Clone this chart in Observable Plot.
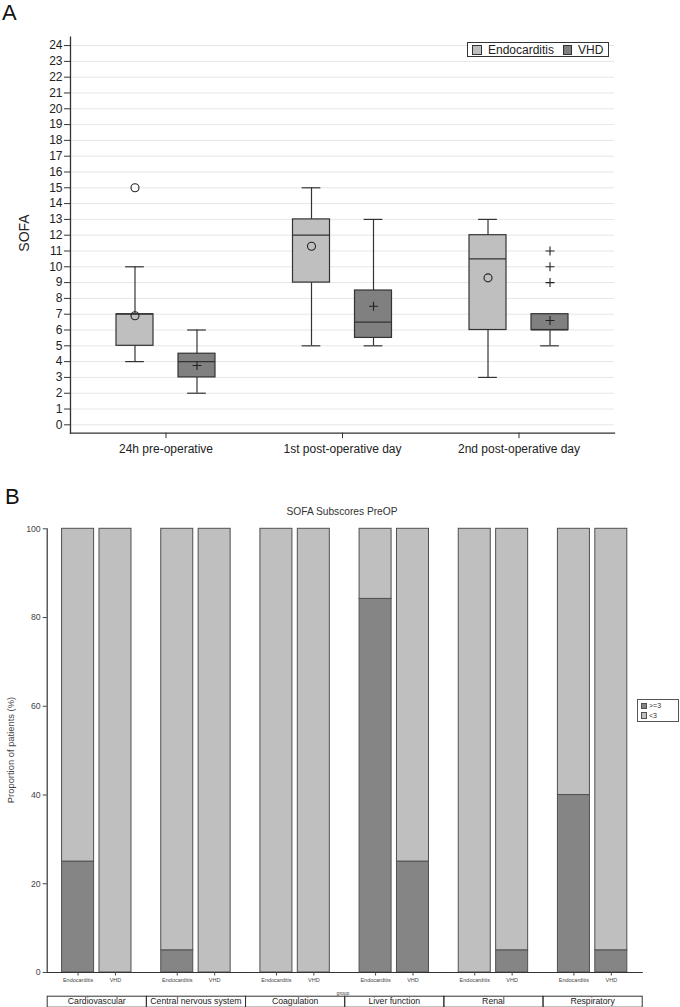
<!DOCTYPE html>
<html>
<head>
<meta charset="utf-8">
<script src="https://cdn.jsdelivr.net/npm/d3@7"></script>
<script src="https://cdn.jsdelivr.net/npm/@observablehq/plot@0.6"></script>
<style>
  html, body { margin: 0; padding: 0; background: #fff; }
  #wrap { position: relative; width: 680px; height: 1007px; overflow: hidden;
          font-family: "Liberation Sans", Arial, Helvetica, sans-serif; color: #222; }
  #wrap svg { position: absolute; left: 0; }
  .abs { position: absolute; white-space: nowrap; line-height: 1; }
  .rot { transform: translate(-50%, -50%) rotate(-90deg); }
  .sq { position: absolute; box-sizing: border-box; border: 1px solid #333; }
</style>
</head>
<body>
<div id="wrap"></div>
<script>
// ---------------- Panel A data (SOFA box plots) ----------------
const periods = ["24h pre-operative", "1st post-operative day", "2nd post-operative day"];
const groups = ["Endocarditis", "VHD"];
const boxPeriod = ["24h pre-operative", "24h pre-operative", "1st post-operative day", "1st post-operative day", "2nd post-operative day", "2nd post-operative day"];
const boxGroup = ["Endocarditis", "VHD", "Endocarditis", "VHD", "Endocarditis", "VHD"];
const whiskerLow = [4, 2, 5, 5, 3, 5];
const quartile1 = [5, 3, 9, 5.5, 6, 6];
const medians = [7, 4, 12, 6.5, 10.5, 6];
const quartile3 = [7, 4.5, 13, 8.5, 12, 7];
const whiskerHigh = [10, 6, 15, 13, 13, 7];
const means = [6.9, 3.75, 11.3, 7.5, 9.3, 6.6];
const outlierPeriod = ["24h pre-operative", "2nd post-operative day", "2nd post-operative day", "2nd post-operative day"];
const outlierGroup = ["Endocarditis", "VHD", "VHD", "VHD"];
const outlierValue = [15, 9, 10, 11];
const sofaTicks = d3.range(0, 25);

// ---------------- Panel B data (SOFA subscores PreOP) ----------------
const subscores = ["Cardiovascular", "Central nervous system", "Coagulation", "Liver function", "Renal", "Respiratory"];
const levels = [">=3", "<3"];
const endoHigh = [25, 5, 0, 84.2, 0, 40];   // % of Endocarditis patients with subscore >=3
const vhdHigh = [0, 0, 0, 25, 5, 5];        // % of VHD patients with subscore >=3
const pctTicks = [0, 20, 40, 60, 80, 100];

const FONT = '"Liberation Sans", Arial, Helvetica, sans-serif';
const wrap = document.getElementById("wrap");

// ================= Panel A =================
const WA = 680, HA = 480, mlA = 70, mrA = 66, mtA = 36.7, mbA = 47.3;
const poA = 0.041;
const stepA = (WA - mlA - mrA) / (periods.length + 2 * poA);
const boxW = 37, capW = 18.7, gOff = 31;
const boxInset = (stepA - boxW) / 2, capInset = (stepA - capW) / 2;

const rowsA = boxGroup.map((g, i) => ({
  period: boxPeriod[i], group: g, lo: whiskerLow[i], q1: quartile1[i],
  med: medians[i], q3: quartile3[i], hi: whiskerHigh[i], mean: means[i]
}));
const outA = outlierValue.map((v, i) => ({period: outlierPeriod[i], group: outlierGroup[i], value: v}));
const groupStyle = {
  Endocarditis: {fill: "#bfbfbf", dx: -gOff, symbol: "circle", r: 4},
  VHD: {fill: "#808080", dx: gOff, symbol: "plus", r: 3}
};
const LC = "#333", LW = 1.2;

const marksA = [Plot.gridY(sofaTicks, {stroke: "#e6e6e6", strokeOpacity: 1})];
for (const g of groups) {
  const s = groupStyle[g];
  const d = rowsA.filter(r => r.group === g);
  const o = outA.filter(r => r.group === g);
  marksA.push(
    Plot.ruleX(d, {x: "period", y1: "lo", y2: "q1", dx: s.dx, stroke: LC, strokeWidth: LW}),
    Plot.ruleX(d, {x: "period", y1: "q3", y2: "hi", dx: s.dx, stroke: LC, strokeWidth: LW}),
    Plot.tickY(d, {x: "period", y: "lo", dx: s.dx, insetLeft: capInset, insetRight: capInset, stroke: LC, strokeWidth: LW}),
    Plot.tickY(d, {x: "period", y: "hi", dx: s.dx, insetLeft: capInset, insetRight: capInset, stroke: LC, strokeWidth: LW}),
    Plot.barY(d, {x: "period", y1: "q1", y2: "q3", dx: s.dx, insetLeft: boxInset, insetRight: boxInset, fill: s.fill, stroke: LC, strokeWidth: LW}),
    Plot.tickY(d, {x: "period", y: "med", dx: s.dx, insetLeft: boxInset, insetRight: boxInset, stroke: LC, strokeWidth: LW}),
    Plot.dot(d, {x: "period", y: "mean", dx: s.dx, symbol: s.symbol, r: s.r, stroke: "#222", strokeWidth: 1.1, fill: "none"}),
    Plot.dot(o, {x: "period", y: "value", dx: s.dx, symbol: s.symbol, r: s.r, stroke: "#222", strokeWidth: 1.1, fill: "none"})
  );
}

const plotA = Plot.plot({
  width: WA, height: HA,
  marginLeft: mlA, marginRight: mrA, marginTop: mtA, marginBottom: mbA,
  style: {fontFamily: FONT, background: "transparent", color: "#222"},
  x: {domain: periods, paddingInner: 0, paddingOuter: poA, round: false},
  y: {domain: [-0.53, 24.53]},
  marks: [
    ...marksA,
    Plot.frame({anchor: "left", stroke: LC, strokeWidth: 1.3}),
    Plot.frame({anchor: "bottom", stroke: LC, strokeWidth: 1.3}),
    Plot.axisY(sofaTicks, {tickSize: 6, tickPadding: 2, fontSize: 12, label: null, stroke: LC}),
    Plot.axisX({tickSize: 5.5, tickPadding: 6, fontSize: 12, label: null, stroke: LC})
  ]
});
plotA.style.top = "0px";
wrap.appendChild(plotA);

// ================= Panel B =================
const WB = 680, HB = 527, mlB = 46.7, mrB = 38.3, mtB = 48.3, mbB = 35;
const innerHB = HB - mtB - mbB;
const rowsB = [];
for (const lv of levels) {
  subscores.forEach((s, i) => {
    rowsB.push({sub: s, group: "Endocarditis", level: lv, value: lv === ">=3" ? endoHigh[i] : 100 - endoHigh[i]});
    rowsB.push({sub: s, group: "VHD", level: lv, value: lv === ">=3" ? vhdHigh[i] : 100 - vhdHigh[i]});
  });
}

const plotB = Plot.plot({
  width: WB, height: HB,
  marginLeft: mlB, marginRight: mrB, marginTop: mtB, marginBottom: mbB,
  style: {fontFamily: FONT, background: "transparent", color: "#333"},
  facet: {data: rowsB, x: "sub"},
  fx: {domain: subscores, padding: 0, round: false},
  x: {domain: groups, paddingInner: 0.144, paddingOuter: 0.398, round: false},
  y: {domain: [0, 100]},
  color: {domain: levels, range: ["#858585", "#bfbfbf"]},
  marks: [
    Plot.barY(rowsB, {x: "group", y: "value", fill: "level", stroke: "#505050", strokeWidth: 1}),
    Plot.frame({anchor: "bottom", stroke: "#333", strokeWidth: 1.2}),
    Plot.frame({anchor: "left", facetAnchor: "left", stroke: "#333", strokeWidth: 1.2}),
    Plot.frame({insetTop: innerHB + 23.7, insetBottom: -34.7, stroke: "#333", strokeWidth: 1}),
    Plot.axisY(pctTicks, {tickSize: 4, tickPadding: 2.5, fontSize: 8.7, label: null, color: "#444"}),
    Plot.axisX({tickSize: 3.5, tickPadding: 2, fontSize: 5.5, label: null, color: "#444"}),
    Plot.axisFx({anchor: "bottom", tickSize: 0, tickPadding: 25.5, fontSize: 8.7, label: null, color: "#222"})
  ]
});
plotB.style.top = "480px";
wrap.appendChild(plotB);

// ================= Text overlays =================
function addText(txt, css, cls = "abs") {
  const el = document.createElement("div");
  el.className = cls;
  el.textContent = txt;
  Object.assign(el.style, css);
  wrap.appendChild(el);
  return el;
}
function addBox(css) {
  const el = document.createElement("div");
  el.className = "sq";
  Object.assign(el.style, css);
  wrap.appendChild(el);
  return el;
}

// Panel letters
addText("A", {left: "2px", top: "2px", fontSize: "22px", color: "#111"});
addText("B", {left: "5px", top: "486px", fontSize: "22px", color: "#111"});

// Panel A y label
addText("SOFA", {left: "24px", top: "233px", fontSize: "14px", color: "#222"}, "abs rot");

// Panel A legend
addBox({left: "466.7px", top: "41.7px", width: "142.6px", height: "15.5px", border: "1px solid #333", background: "#fff"});
addBox({left: "472px", top: "45px", width: "9.7px", height: "9.7px", background: groupStyle.Endocarditis.fill});
addText(groups[0], {left: "488px", top: "43.5px", fontSize: "12px"});
addBox({left: "562.7px", top: "45px", width: "9.7px", height: "9.7px", background: groupStyle.VHD.fill});
addText(groups[1], {left: "578px", top: "43.5px", fontSize: "12px"});

// Panel B title and labels
addText("SOFA Subscores PreOP", {left: "342px", top: "507px", fontSize: "10.2px", transform: "translateX(-50%)", color: "#333"});
addText("Proportion of patients (%)", {left: "11px", top: "750px", fontSize: "9.4px", color: "#444"}, "abs rot");
addText("group", {left: "343px", top: "990.5px", fontSize: "5px", transform: "translateX(-50%)", color: "#444"});

// Panel B legend
addBox({left: "637px", top: "699px", width: "42px", height: "23px", border: "1px solid #555", background: "#fff"});
addBox({left: "640.5px", top: "702.5px", width: "6.5px", height: "6.5px", background: "#858585", borderColor: "#505050"});
addText(levels[0], {left: "649px", top: "702px", fontSize: "7px", color: "#333"});
addBox({left: "640.5px", top: "712px", width: "6.5px", height: "6.5px", background: "#bfbfbf", borderColor: "#505050"});
addText(levels[1], {left: "649px", top: "711.5px", fontSize: "7px", color: "#333"});
</script>
</body>
</html>
